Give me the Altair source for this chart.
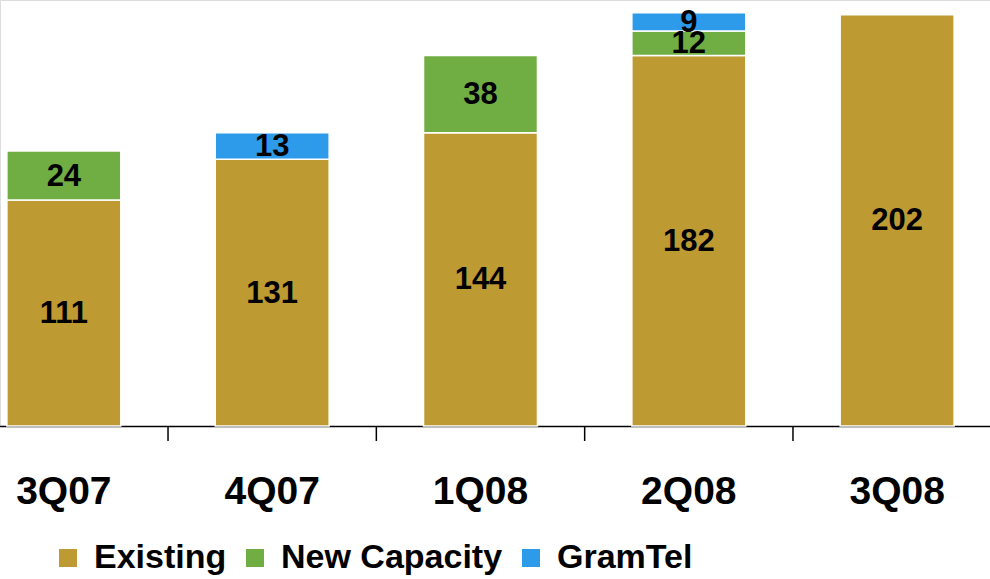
import altair as alt
import pandas as pd

categories = ["3Q07", "4Q07", "1Q08", "2Q08", "3Q08"]
existing = [111, 131, 144, 182, 202]
new_capacity = [24, 0, 38, 12, 0]
gramtel = [0, 13, 0, 9, 0]

series_names = ["Existing", "New Capacity", "GramTel"]
series_values = [existing, new_capacity, gramtel]
series_colors = ["#BE9A33", "#70AE43", "#2D9BEA"]

rows = []
for si, (name, vals) in enumerate(zip(series_names, series_values)):
    for c, v in zip(categories, vals):
        if v > 0:
            rows.append({"cat": c, "series": name, "value": v, "ord": si})
df = pd.DataFrame(rows)

FONT = "Liberation Sans"
H = 426
STEP = (1001.3 + 40.3) / 5
PAD_OUT = 0.2265

xscale = alt.Scale(domain=categories, range=[-40.3, 1001.3], paddingInner=0.453, paddingOuter=PAD_OUT)
yscale = alt.Scale(domain=[0, 209.2], nice=False, zero=True)

base = alt.Chart(df).transform_stack(
    stack="value", groupby=["cat"], as_=["y0", "y1"], sort=[alt.SortField("ord", order="ascending")]
).transform_calculate(mid="(datum.y0 + datum.y1) / 2")

bars = base.mark_bar(stroke="white", strokeWidth=1.5).encode(
    x=alt.X("cat:N", scale=xscale, sort=categories, title=None,
            axis=alt.Axis(labelAngle=0, labelFont=FONT, labelFontSize=39, labelFontWeight="bold",
                          labelColor="black", ticks=False, tickSize=0, labelPadding=77,
                          labelBaseline="alphabetic", domainColor="black", domainWidth=1.5,
                          grid=False)),
    y=alt.Y("y0:Q", scale=yscale, axis=None),
    y2="y1:Q",
    color=alt.Color("series:N", scale=alt.Scale(domain=series_names, range=series_colors),
                    legend=alt.Legend(title=None, orient="none", direction="horizontal",
                                      legendX=51, legendY=541,
                                      symbolType="square", symbolSize=324, symbolStrokeWidth=0,
                                      labelFont=FONT, labelFontSize=34, labelFontWeight="bold",
                                      labelColor="black", labelOffset=9, columnPadding=11,
                                      labelLimit=400)),
)

labels = base.mark_text(font=FONT, fontSize=31, fontWeight="bold", color="black",
                        baseline="middle", dy=1).encode(
    x=alt.X("cat:N", scale=xscale, sort=categories),
    y=alt.Y("mid:Q", scale=yscale),
    text=alt.Text("value:Q"),
)

tick_df = pd.DataFrame({"cat": categories})
ticks = alt.Chart(tick_df).mark_rule(color="black", strokeWidth=1.5, xOffset=-STEP * PAD_OUT).encode(
    x=alt.X("cat:N", scale=xscale, sort=categories, bandPosition=0),
    y=alt.value(H),
    y2=alt.value(H + 15),
)

chart = alt.layer(bars, labels, ticks).properties(
    width=990, height=H,
    autosize=alt.AutoSizeParams(type="none"),
    padding={"left": 0, "top": 0, "right": 0, "bottom": 579 - H},
).configure_view(stroke=None).configure(background="white")

chart.save("out.html", embed_options={"renderer": "svg", "actions": False})
